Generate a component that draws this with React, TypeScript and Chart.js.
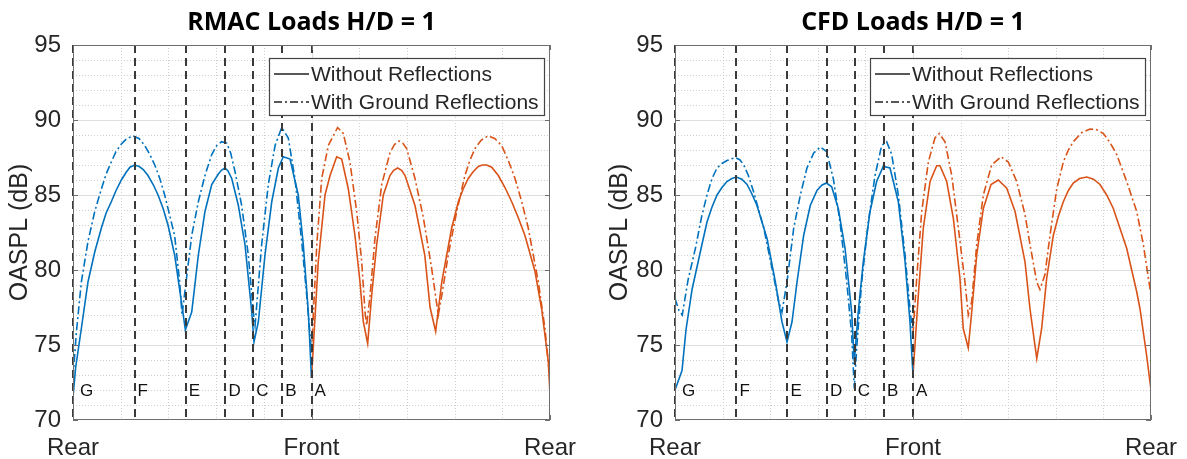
import React, { useEffect, useRef } from "react";
import { Chart, registerables } from "chart.js";

Chart.register(...registerables);

// ---- axes ----
const xTickValues = [0, 180, 360];
const xTickLabels = ["Rear", "Front", "Rear"];
const xMinorStep = 36;
const yMin = 70;
const yMax = 95;
const yMajorStep = 5;
const yMinorStep = 1;
const yAxisTitle = "OASPL (dB)";

// ---- station markers ----
const stationLetters = ["G", "F", "E", "D", "C", "B", "A"];
const stationDeg = [0, 46.5, 85, 115, 136, 158, 180];
const stationLabelDb = 71.9;

const legendLabels = ["Without Reflections", "With Ground Reflections"];
const chartTitles = ["RMAC Loads H/D = 1", "CFD Loads H/D = 1"];

// ---- RMAC loads, 0..180 deg ----
const rmacFwdDirectDeg = [0, 2, 6.3, 11.3, 16.4, 21.4, 25, 28.9, 32.5, 36.5, 40, 43, 46.5, 50, 53, 56.6, 60.5, 64.2, 68, 71.7, 76.7, 81.8, 84.8, 89.6, 94.6, 99.6, 104.7, 109.7, 112, 114.7, 117, 119.8, 124.8, 129.8, 134.9, 136.6, 139.9, 144.9, 150, 155, 158.7, 163.8, 170, 173.8, 177.6, 180];
const rmacFwdDirectDb = [71.5, 73.5, 76.1, 79.2, 81.2, 82.8, 83.8, 84.55, 85.3, 86.0, 86.5, 86.85, 87.0, 86.9, 86.7, 86.3, 85.7, 85.0, 84.1, 83.0, 81.0, 77.9, 76.0, 77.2, 81.0, 83.9, 85.7, 86.4, 86.65, 86.8, 86.6, 86.1, 84.3, 81.7, 77.2, 75.2, 76.55, 81.0, 84.55, 86.8, 87.55, 87.4, 85.0, 81.7, 77.2, 72.8];
const rmacFwdGroundDeg = [0, 2.5, 6.3, 11.3, 16.4, 21.4, 25, 28.9, 32.5, 36.5, 40.5, 45.3, 50, 54.1, 58, 61.7, 65.5, 69.2, 76.7, 80.5, 82.3, 84.5, 89.6, 94.6, 99.6, 104.7, 108.5, 112.2, 116, 119, 122.3, 127.3, 132.3, 136.1, 137.4, 142.4, 147.4, 152.5, 157.5, 162.5, 167.5, 172.6, 176.4, 180];
const rmacFwdGroundDb = [72.8, 75.8, 79.2, 81.9, 83.9, 85.4, 86.4, 87.2, 87.9, 88.4, 88.75, 88.95, 88.75, 88.3, 87.7, 87.0, 86.1, 85.0, 82.3, 79.2, 77.0, 78.6, 82.3, 84.55, 86.3, 87.7, 88.3, 88.55, 88.45, 87.8, 86.55, 84.3, 81.0, 77.2, 76.3, 81.7, 85.7, 88.3, 89.5, 88.8, 86.1, 81.9, 78.3, 74.5];

// ---- RMAC loads, 180..360 deg ----
const rmacAftDirectDeg = [180, 185.1, 190.2, 194, 199, 202.8, 207.8, 212.8, 216.6, 219.1, 222.4, 225.4, 229.2, 234.2, 239.2, 242, 245, 248, 250.6, 258.1, 265.5, 269.5, 273.7, 278.3, 285.8, 290.8, 294.5, 298.3, 302, 305.9, 309, 312.2, 316, 321, 326, 331.1, 336, 341.1, 348.7, 353.7, 358.7, 360];
const rmacAftDirectDb = [72.8, 80.55, 85.0, 86.3, 87.55, 87.4, 85.4, 82.3, 79.2, 76.55, 75.1, 78.3, 81.7, 85.0, 86.3, 86.65, 86.8, 86.65, 86.3, 84.3, 81.0, 77.5, 75.9, 79.2, 82.8, 84.55, 85.4, 86.1, 86.55, 86.9, 87.0, 87.0, 86.85, 86.3, 85.5, 84.55, 83.5, 82.3, 79.9, 77.4, 73.9, 71.7];
const rmacAftGroundDeg = [180, 184, 187.7, 192.7, 199.7, 204, 209, 214.1, 217.9, 220.4, 221.6, 224.2, 227.9, 233, 239.2, 242.5, 246, 249, 251.8, 258.1, 264.4, 270.7, 275.7, 278.3, 283.2, 289.6, 295.8, 299.5, 303.4, 308, 313.4, 318.5, 323.5, 328.5, 333.6, 338.5, 343.6, 351.2, 356.2, 359.2, 360];
const rmacAftGroundDb = [74.5, 81.7, 86.1, 88.3, 89.5, 89.1, 87.2, 83.9, 80.55, 77.2, 76.3, 78.3, 82.1, 85.7, 87.8, 88.35, 88.6, 88.45, 88.1, 86.1, 83.5, 80.1, 77.0, 78.3, 81.0, 83.9, 86.3, 87.3, 88.1, 88.65, 88.95, 88.75, 88.3, 87.3, 86.1, 84.6, 82.8, 79.2, 76.1, 73.4, 72.8];

// ---- CFD loads, 0..180 deg ----
const cfdFwdDirectDeg = [0, 5.3, 8.3, 12.9, 20, 24.2, 28, 31.8, 35.5, 39.3, 43, 46.4, 50.5, 54.5, 58, 62, 69.6, 75.9, 80.9, 84.7, 88.5, 92.3, 97.3, 102.3, 107.4, 111, 114.5, 118.5, 123.5, 128.6, 133.6, 135.6, 138.6, 142.4, 147.5, 152.5, 157.5, 162.6, 168.9, 174, 177.7, 180];
const cfdFwdDirectDb = [72.0, 73.3, 76.0, 78.7, 81.55, 83.2, 84.2, 85.0, 85.5, 85.9, 86.1, 86.2, 86.05, 85.7, 85.1, 84.3, 82.1, 79.2, 76.55, 75.2, 76.55, 79.2, 82.3, 84.3, 85.3, 85.65, 85.8, 85.55, 84.1, 81.45, 77.2, 73.9, 77.2, 80.55, 83.9, 85.9, 86.9, 86.8, 84.55, 80.55, 76.55, 73.0];
const cfdFwdGroundDeg = [0, 3, 5.5, 9.8, 15.7, 20, 24.2, 28, 31.8, 35.5, 39.3, 45.6, 49, 52, 55.5, 59.5, 67.1, 73.4, 78.4, 80.9, 84.7, 89.8, 94.8, 99.8, 104.9, 109.9, 114.7, 119.7, 124.8, 129.9, 133.6, 135.6, 137.4, 141.2, 146.2, 151.3, 156.3, 160.1, 163.9, 168.9, 174, 177.7, 180];
const cfdFwdGroundDb = [78.1, 77.3, 77.0, 79.3, 81.55, 83.5, 85.0, 86.1, 86.8, 87.1, 87.3, 87.5, 87.35, 87.0, 86.3, 85.2, 82.8, 80.1, 77.9, 77.2, 79.2, 82.8, 85.0, 86.8, 87.8, 88.2, 87.9, 86.1, 83.2, 79.2, 75.7, 72.1, 74.8, 79.2, 83.2, 86.3, 88.3, 88.55, 87.7, 85.0, 81.0, 77.4, 75.7];

// ---- CFD loads, 180..360 deg ----
const cfdAftDirectDeg = [180, 184, 187.8, 192.9, 197.9, 200.4, 205.5, 210.5, 215.5, 218, 221.8, 224.4, 228.2, 233.2, 239, 244.5, 250.9, 257.2, 264.7, 268.5, 273.6, 277.3, 281.1, 286.1, 290, 293.7, 297.5, 301.2, 306, 311.4, 316.5, 321.4, 326.5, 331.5, 341.6, 349.2, 351.7, 356.7, 360];
const cfdAftDirectDb = [73.0, 78.3, 82.8, 85.9, 86.95, 86.95, 85.9, 83.45, 79.45, 76.1, 74.8, 77.2, 81.0, 84.1, 85.7, 86.0, 85.45, 83.9, 80.55, 77.4, 74.1, 76.1, 79.45, 82.3, 83.6, 84.55, 85.3, 85.8, 86.1, 86.2, 86.05, 85.7, 85.0, 84.1, 81.45, 78.55, 77.4, 74.3, 72.0];
const cfdAftGroundDeg = [180, 182.8, 186.6, 191.6, 196.6, 199.9, 204.2, 209.3, 214.3, 219.3, 221.8, 224.4, 228.2, 233.2, 239.5, 246.6, 252.1, 258.4, 264.7, 268.5, 273.6, 276, 279.8, 283.6, 288.7, 293.7, 297.5, 301.2, 307.5, 313.9, 319, 324, 329, 334.1, 341.6, 349.2, 354.2, 360];
const cfdAftGroundDb = [75.7, 79.45, 83.9, 87.2, 88.8, 89.1, 88.55, 86.3, 82.8, 79.2, 77.0, 77.9, 81.7, 85.0, 87.0, 87.55, 87.2, 85.9, 83.7, 81.7, 79.2, 78.7, 79.7, 82.3, 85.4, 87.2, 88.0, 88.55, 89.15, 89.4, 89.35, 89.1, 88.5, 87.7, 85.9, 83.9, 81.7, 78.3];

// ---- styles ----
const BLUE = "#0072BD";
const ORANGE = "#D95319";
const DASH_DOT = [8, 3, 2, 3];
const TEXT = "#262626";
const SANS = '"Liberation Sans", Arial, sans-serif';
const TITLE_FONT = 'bold 25px "Open Sans", sans-serif';

type Series = { deg: number[]; db: number[]; color: string; ground: boolean };

const rmacSeries: Series[] = [
  { deg: rmacFwdDirectDeg, db: rmacFwdDirectDb, color: BLUE, ground: false },
  { deg: rmacFwdGroundDeg, db: rmacFwdGroundDb, color: BLUE, ground: true },
  { deg: rmacAftDirectDeg, db: rmacAftDirectDb, color: ORANGE, ground: false },
  { deg: rmacAftGroundDeg, db: rmacAftGroundDb, color: ORANGE, ground: true },
];
const cfdSeries: Series[] = [
  { deg: cfdFwdDirectDeg, db: cfdFwdDirectDb, color: BLUE, ground: false },
  { deg: cfdFwdGroundDeg, db: cfdFwdGroundDb, color: BLUE, ground: true },
  { deg: cfdAftDirectDeg, db: cfdAftDirectDb, color: ORANGE, ground: false },
  { deg: cfdAftGroundDeg, db: cfdAftGroundDb, color: ORANGE, ground: true },
];

function decorationsPlugin(title: string) {
  return {
    id: "decorations",
    beforeDatasetsDraw(chart: any) {
      const { ctx, chartArea: a, scales } = chart;
      const xs = scales.x;
      const ys = scales.y;
      ctx.save();
      // minor dotted grid
      ctx.strokeStyle = "#cfcfcf";
      ctx.lineWidth = 1;
      ctx.setLineDash([1, 2]);
      for (let v = xMinorStep; v < 360; v += xMinorStep) {
        if (xTickValues.includes(v)) continue;
        const px = Math.round(xs.getPixelForValue(v)) + 0.5;
        ctx.beginPath();
        ctx.moveTo(px, a.top);
        ctx.lineTo(px, a.bottom);
        ctx.stroke();
      }
      for (let v = yMin + yMinorStep; v < yMax; v += yMinorStep) {
        if (v % yMajorStep === 0) continue;
        const py = Math.round(ys.getPixelForValue(v)) + 0.5;
        ctx.beginPath();
        ctx.moveTo(a.left, py);
        ctx.lineTo(a.right, py);
        ctx.stroke();
      }
      // major solid grid
      ctx.setLineDash([]);
      ctx.strokeStyle = "#dedede";
      for (let v = yMin + yMajorStep; v < yMax; v += yMajorStep) {
        const py = Math.round(ys.getPixelForValue(v)) + 0.5;
        ctx.beginPath();
        ctx.moveTo(a.left, py);
        ctx.lineTo(a.right, py);
        ctx.stroke();
      }
      for (const v of xTickValues) {
        if (v === 0 || v === 360) continue;
        const px = Math.round(xs.getPixelForValue(v)) + 0.5;
        ctx.beginPath();
        ctx.moveTo(px, a.top);
        ctx.lineTo(px, a.bottom);
        ctx.stroke();
      }
      ctx.restore();
    },
    afterDatasetsDraw(chart: any) {
      const { ctx, chartArea: a, scales } = chart;
      const xs = scales.x;
      const ys = scales.y;
      ctx.save();
      // station markers
      ctx.strokeStyle = "#3a3a3a";
      ctx.lineWidth = 2;
      ctx.setLineDash([8, 5]);
      stationDeg.forEach((d) => {
        const px = Math.round(xs.getPixelForValue(d));
        ctx.beginPath();
        ctx.moveTo(px, a.top);
        ctx.lineTo(px, a.bottom);
        ctx.stroke();
      });
      ctx.setLineDash([]);
      ctx.fillStyle = "#111";
      ctx.font = `17px ${SANS}`;
      ctx.textBaseline = "middle";
      ctx.textAlign = "left";
      const ly = ys.getPixelForValue(stationLabelDb);
      stationDeg.forEach((d, i) => {
        const px = xs.getPixelForValue(d);
        ctx.fillText(stationLetters[i], px + (d === 0 ? 7 : 3), ly);
      });
      // axes box with inward ticks
      ctx.strokeStyle = "#6e6e6e";
      ctx.lineWidth = 1;
      ctx.strokeRect(a.left + 0.5, a.top + 0.5, a.right - a.left - 1, a.bottom - a.top - 1);
      const tl = 5;
      for (let v = yMin; v <= yMax; v += yMajorStep) {
        const py = Math.round(ys.getPixelForValue(v)) + 0.5;
        ctx.beginPath();
        ctx.moveTo(a.left, py);
        ctx.lineTo(a.left + tl, py);
        ctx.moveTo(a.right, py);
        ctx.lineTo(a.right - tl, py);
        ctx.stroke();
      }
      for (const v of xTickValues) {
        const px = Math.round(xs.getPixelForValue(v)) + 0.5;
        ctx.beginPath();
        ctx.moveTo(px, a.bottom);
        ctx.lineTo(px, a.bottom - tl);
        ctx.moveTo(px, a.top);
        ctx.lineTo(px, a.top + tl);
        ctx.stroke();
      }
      // legend
      const bw = 275;
      const bh = 57;
      const bx = a.right - 6 - bw;
      const by = 58;
      ctx.fillStyle = "#ffffff";
      ctx.fillRect(bx, by, bw, bh);
      ctx.strokeStyle = "#444";
      ctx.lineWidth = 1.2;
      ctx.strokeRect(bx + 0.5, by + 0.5, bw, bh);
      const rows = [by + 16, by + 44];
      ctx.strokeStyle = "#222";
      ctx.lineWidth = 1.5;
      rows.forEach((ry, i) => {
        ctx.setLineDash(i === 1 ? DASH_DOT : []);
        ctx.beginPath();
        ctx.moveTo(bx + 5, ry);
        ctx.lineTo(bx + 40, ry);
        ctx.stroke();
      });
      ctx.setLineDash([]);
      ctx.fillStyle = TEXT;
      ctx.font = `21px ${SANS}`;
      ctx.textBaseline = "middle";
      rows.forEach((ry, i) => ctx.fillText(legendLabels[i], bx + 42, ry + 1));
      ctx.restore();
    },
    afterDraw(chart: any) {
      const { ctx, chartArea: a } = chart;
      ctx.save();
      ctx.fillStyle = "#000";
      ctx.font = TITLE_FONT;
      ctx.textAlign = "center";
      ctx.textBaseline = "alphabetic";
      ctx.fillText(title, (a.left + a.right) / 2, 30);
      ctx.restore();
    },
  };
}

function buildChart(canvas: HTMLCanvasElement, title: string, series: Series[], yWidth: number, padRight: number) {
  return new Chart(canvas, {
    type: "line",
    data: {
      datasets: series.map((s) => ({
        label: s.ground ? legendLabels[1] : legendLabels[0],
        data: s.deg.map((d, i) => ({ x: d, y: s.db[i] })),
        borderColor: s.color,
        borderWidth: 1.6,
        borderDash: s.ground ? DASH_DOT : [],
        pointRadius: 0,
        tension: 0,
        fill: false,
      })),
    },
    options: {
      responsive: false,
      animation: false,
      devicePixelRatio: 1,
      layout: { padding: { left: 0, top: 45, right: padRight, bottom: 0 } },
      plugins: { legend: { display: false }, tooltip: { enabled: false }, title: { display: false } },
      scales: {
        x: {
          type: "linear",
          min: 0,
          max: 360,
          grid: { display: false },
          border: { display: false },
          afterBuildTicks: (scale: any) => {
            scale.ticks = xTickValues.map((v) => ({ value: v }));
          },
          afterFit: (scale: any) => {
            scale.height = 39;
          },
          ticks: {
            autoSkip: false,
            maxRotation: 0,
            padding: 6,
            color: TEXT,
            font: { family: SANS, size: 24 },
            callback: (_v: any, i: number) => xTickLabels[i],
          },
        },
        y: {
          type: "linear",
          min: yMin,
          max: yMax,
          grid: { display: false },
          border: { display: false },
          afterFit: (scale: any) => {
            scale.width = yWidth;
          },
          ticks: {
            stepSize: yMajorStep,
            padding: 4,
            color: TEXT,
            font: { family: SANS, size: 24 },
          },
          title: {
            display: true,
            text: yAxisTitle,
            color: TEXT,
            font: { family: SANS, size: 25 },
            padding: { top: 5, bottom: 0 },
          },
        },
      },
    },
    plugins: [decorationsPlugin(title)],
  } as any);
}

export default function App() {
  const leftRef = useRef<HTMLCanvasElement>(null);
  const rightRef = useRef<HTMLCanvasElement>(null);

  useEffect(() => {
    let cancelled = false;
    const charts: Chart[] = [];
    const fontsReady = Promise.all([
      document.fonts.load(TITLE_FONT),
      document.fonts.load(`22px ${SANS}`),
    ]).catch(() => undefined);
    fontsReady.then(() => {
      if (cancelled || !leftRef.current || !rightRef.current) return;
      charts.push(buildChart(leftRef.current, chartTitles[0], rmacSeries, 73, 50));
      charts.push(buildChart(rightRef.current, chartTitles[1], cfdSeries, 75, 36));
    });
    return () => {
      cancelled = true;
      charts.forEach((c) => c.destroy());
    };
  }, []);

  return (
    <div style={{ position: "absolute", left: 0, top: 0, width: 1187, height: 459, background: "#fff" }}>
      <canvas ref={leftRef} width={600} height={459} style={{ position: "absolute", left: 0, top: 0, width: 600, height: 459 }} />
      <canvas ref={rightRef} width={587} height={459} style={{ position: "absolute", left: 600, top: 0, width: 587, height: 459 }} />
    </div>
  );
}
